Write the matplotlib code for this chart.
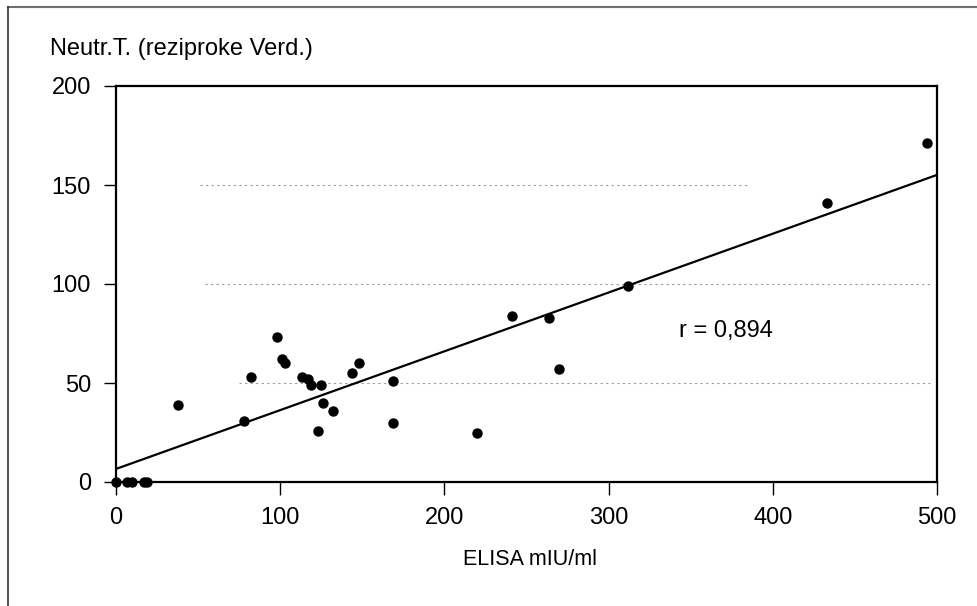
import matplotlib
matplotlib.use("Agg")
import matplotlib.pyplot as plt
from matplotlib.lines import Line2D

plt.rcParams["font.family"] = ["Liberation Sans", "DejaVu Sans"]

# ELISA (mIU/ml) vs. neutralisation titre
elisa = [0, 7, 10, 17, 19, 38, 78, 82, 98, 101, 103, 113, 117, 119, 123,
         125, 126, 132, 144, 148, 169, 169, 220, 241, 264, 270, 312, 433, 494]
neutr = [0, 0, 0, 0, 0, 39, 31, 53, 73, 62, 60, 53, 52, 49, 26,
         49, 40, 36, 55, 60, 51, 30, 25, 84, 83, 57, 99, 141, 171]

# regression line as printed (intercept, slope)
fit_intercept = 6.6
fit_slope = 0.297
r_text = "r = 0,894"

grid_levels = [50, 100, 150]
grid_spans = [(75, 496), (54, 496), (51, 386)]

fig = plt.figure(figsize=(9.78, 6.06), dpi=100)
ax = fig.add_axes([116 / 978, 1 - 482 / 606, (937 - 116) / 978, (482 - 86) / 606])

for lvl, (x0, x1) in zip(grid_levels, grid_spans):
    ax.hlines(lvl, x0, x1, colors="#9a9a9a", linewidth=0.8, linestyles=(0, (2, 3)), zorder=1)

xs = [0, 500]
ax.plot(xs, [fit_intercept + fit_slope * x for x in xs], color="black", linewidth=1.6, zorder=2)
ax.scatter(elisa, neutr, s=42, color="black", zorder=3, clip_on=False)

ax.text(343, 73, r_text, fontsize=17, va="baseline", ha="left")

ax.set_xlim(0, 500)
ax.set_ylim(0, 200)
ax.set_xticks([0, 100, 200, 300, 400, 500])
ax.set_yticks([0, 50, 100, 150, 200])
ax.tick_params(axis="both", direction="out", labelsize=17, width=1.0, color="black")
ax.tick_params(axis="x", length=9, pad=9)
ax.tick_params(axis="y", length=9, pad=9)
for sp in ax.spines.values():
    sp.set_linewidth(1.6)

fig.text(50 / 978, 1 - 55 / 606, "Neutr.T. (reziproke Verd.)", fontsize=17, va="baseline", ha="left")
fig.text(530 / 978, 1 - 565 / 606, "ELISA mIU/ml", fontsize=15.5, va="baseline", ha="center")

# scanned page frame (top and left edges)
fig.add_artist(Line2D([8 / 978, 1], [1 - 7 / 606, 1 - 7 / 606], transform=fig.transFigure,
                      color="#6e6e6e", linewidth=1.5))
fig.add_artist(Line2D([8 / 978, 8 / 978], [0, 1 - 7 / 606], transform=fig.transFigure,
                      color="#333333", linewidth=1.2))

fig.savefig("out.png", dpi=100)
